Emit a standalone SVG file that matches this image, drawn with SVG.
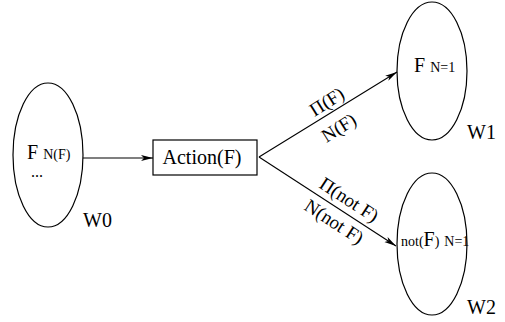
<svg xmlns="http://www.w3.org/2000/svg" width="505" height="322" viewBox="0 0 505 322" font-family="Liberation Serif, Times New Roman, serif">
<style>
.shape{fill:none;stroke:#000;stroke-width:1.2}
.edge{fill:none;stroke:#000;stroke-width:1.1}
.big{font-size:20px}
.sub{font-size:14px}
.lbl{font-size:19px;text-anchor:middle}
</style>
<defs>
<marker id="arr" viewBox="0 0 12 8" refX="12" refY="4" markerWidth="12" markerHeight="8" markerUnits="userSpaceOnUse" orient="auto">
<path d="M0,1 L12,4 L0,7 L3,4 Z" fill="#000"/>
</marker>
</defs>
<rect width="505" height="322" fill="#fff"/>
<g id="W0">
<ellipse class="shape" cx="48" cy="155" rx="35" ry="72"/>
<text x="27" y="159"><tspan class="big">F</tspan><tspan class="sub" dx="5">N(F)</tspan></text>
<text x="31" y="177" font-size="16">...</text>
<text class="big" x="83" y="227">W0</text>
</g>
<g id="Action">
<rect class="shape" x="153" y="140" width="104" height="35"/>
<text class="big" x="202" y="164" text-anchor="middle">Action(F)</text>
</g>
<g id="W1">
<ellipse class="shape" cx="432" cy="71" rx="35" ry="69"/>
<text x="414" y="72"><tspan class="big">F</tspan><tspan class="sub" dx="5">N=1</tspan></text>
<text class="big" x="467" y="139">W1</text>
</g>
<g id="W2">
<ellipse class="shape" cx="432" cy="244" rx="35" ry="71"/>
<text x="401" y="246"><tspan class="sub">not(</tspan><tspan class="big">F</tspan><tspan class="sub">)</tspan><tspan class="sub" dx="5">N=1</tspan></text>
<text class="big" x="467" y="314">W2</text>
</g>
<g id="connectors">
<line class="edge" x1="83" y1="158" x2="153" y2="158" marker-end="url(#arr)"/>
<line class="edge" x1="259" y1="157" x2="397" y2="72" marker-end="url(#arr)"/>
<line class="edge" x1="259" y1="157" x2="396" y2="246" marker-end="url(#arr)"/>
<text class="lbl" transform="translate(327,102) rotate(-32)" y="6">Π(F)</text>
<text class="lbl" transform="translate(339,128) rotate(-32)" y="6">N(F)</text>
<text class="lbl" transform="translate(349,200) rotate(33)" y="6">Π(not F)</text>
<text class="lbl" transform="translate(334,222) rotate(33)" y="6">N(not F)</text>
</g>
</svg>
